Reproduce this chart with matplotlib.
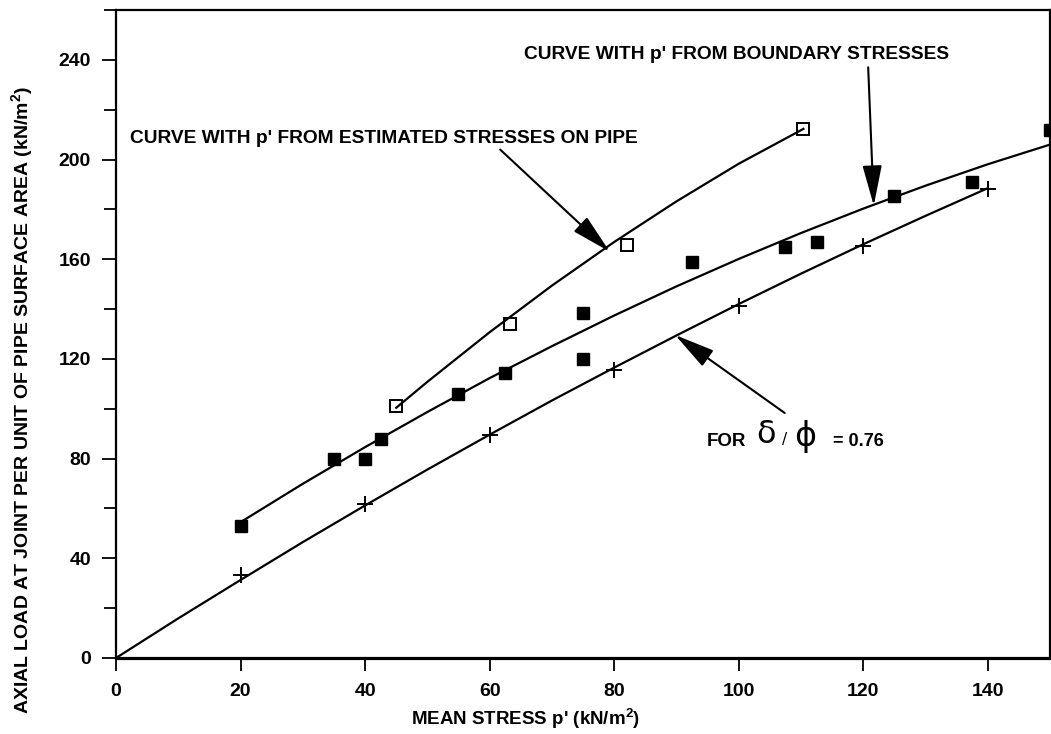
import matplotlib
matplotlib.use("Agg")
import matplotlib.pyplot as plt
from matplotlib.ticker import MultipleLocator

plt.rcParams["font.family"] = ["Liberation Sans", "DejaVu Sans"]
plt.rcParams["font.weight"] = "bold"
plt.rcParams["mathtext.fontset"] = "custom"
plt.rcParams["mathtext.rm"] = "Liberation Sans:bold"
plt.rcParams["mathtext.it"] = "Liberation Sans:bold"
plt.rcParams["mathtext.bf"] = "Liberation Sans:bold"
plt.rcParams["mathtext.default"] = "rm"

# Measured points: p' from boundary stresses (filled squares)
boundary_p = [20, 35, 40, 42.5, 55, 62.5, 75, 75, 92.5, 107.5, 112.5, 125, 137.5, 150]
boundary_load = [53, 80, 80, 88, 106, 114.5, 120, 138.5, 159, 165, 167, 185.5, 191, 212]

# Measured points: p' from estimated stresses on pipe (open squares)
estimated_p = [45, 63.3, 82.1, 110.4]
estimated_load = [101, 134, 165.6, 212.3]

# Predicted values for delta/phi = 0.76 (plus markers)
predicted_p = [20, 40, 60, 80, 100, 120, 140]
predicted_load = [33.3, 61.8, 89.6, 115.7, 141.4, 165.5, 188.2]

# Fitted curves
boundary_curve_p = [20, 30, 40, 50, 60, 70, 80, 90, 100, 110, 120, 130, 140, 150]
boundary_curve_load = [54.5, 69.9, 84.6, 98.7, 112.3, 125.1, 137.4, 149.1, 160.1,
                       170.5, 180.3, 189.5, 198.1, 206.0]
estimated_curve_p = [45, 50, 60, 70, 80, 90, 100, 110.4]
estimated_curve_load = [100.4, 110.8, 130.7, 149.4, 166.9, 183.2, 198.3, 212.3]
predicted_curve_p = [0, 10, 20, 30, 40, 50, 60, 70, 80, 90, 100, 110, 120, 130, 140]
predicted_curve_load = [0, 15.9, 31.3, 46.5, 61.2, 75.6, 89.6, 103.3, 116.5, 129.4,
                        142.0, 154.2, 166.0, 177.4, 188.5]

x_ticks = [0, 20, 40, 60, 80, 100, 120, 140]
y_ticks = [0, 40, 80, 120, 160, 200, 240]

W, H = 1051, 734
fig = plt.figure(figsize=(W / 100, H / 100), dpi=100)
ax = fig.add_axes([116 / W, 1 - 658 / H, (1050 - 116) / W, (658 - 10) / H])

lw = 1.6
ax.plot(boundary_curve_p, boundary_curve_load, color="black", lw=lw)
ax.plot(estimated_curve_p, estimated_curve_load, color="black", lw=lw)
ax.plot(predicted_curve_p, predicted_curve_load, color="black", lw=lw)

ax.plot(boundary_p, boundary_load, ls="none", marker="s", ms=8.7, color="black")
ax.plot(estimated_p, estimated_load, ls="none", marker="s", ms=8.5, mfc="none",
        mec="black", mew=1.4)
ax.plot(predicted_p, predicted_load, ls="none", marker="+", ms=11, color="black",
        mew=1.4)

ax.set_xlim(0, 150)
ax.set_ylim(0, 260)
ax.set_xticks(x_ticks)
ax.set_yticks(y_ticks)
ax.yaxis.set_minor_locator(MultipleLocator(20))
ax.tick_params(axis="both", which="both", direction="out", color="black",
               labelsize=14, width=1.3)
ax.tick_params(axis="x", which="major", length=9, pad=9)
ax.tick_params(axis="y", which="major", length=10, pad=8)
ax.tick_params(axis="y", which="minor", length=9)
for lab in ax.get_xticklabels() + ax.get_yticklabels():
    lab.set_fontweight("bold")
for side in ("left", "top", "right"):
    ax.spines[side].set_linewidth(1.6)
ax.spines["bottom"].set_linewidth(2.3)

fig.text(526 / W, 1 - 719 / H, "MEAN STRESS p' (kN/m$^{2}$)", ha="center",
         va="center", fontsize=13.5, fontweight="bold")
fig.text(22 / W, 1 - 400 / H,
         "AXIAL LOAD AT JOINT PER UNIT OF PIPE SURFACE AREA (kN/m$^{2}$)",
         rotation=90, ha="center", va="center", fontsize=14, fontweight="bold")

arrow = dict(arrowstyle="-|>,head_length=1.25,head_width=0.3", color="black",
             lw=1.5, shrinkA=0, shrinkB=0, mutation_scale=20)

ax.text(65.6, 242, "CURVE WITH p' FROM BOUNDARY STRESSES", ha="left", va="center",
        fontsize=13.8, fontweight="bold")
ax.annotate("", xy=(121.7, 181.5), xytext=(120.8, 237), arrowprops=arrow)

ax.text(2.2, 208.5, "CURVE WITH p' FROM ESTIMATED STRESSES ON PIPE", ha="left",
        va="center", fontsize=13.8, fontweight="bold")
ax.annotate("", xy=(79.3, 163.0), xytext=(61.7, 204.0), arrowprops=arrow)

ax.annotate("", xy=(89.8, 129.6), xytext=(107.4, 98.3), arrowprops=arrow)
ax.text(94.9, 86.8, "FOR", ha="left", va="center", fontsize=13.5, fontweight="bold")
ax.text(104.4, 89.5, "δ", ha="center", va="center", fontsize=23,
        fontweight="normal", family=["DejaVu Sans"])
ax.text(107.3, 87.5, "/", ha="center", va="center", fontsize=11,
        fontweight="normal", family=["DejaVu Sans"])
ax.text(110.6, 89.0, "ϕ", ha="center", va="center", fontsize=24,
        fontweight="normal", family=["DejaVu Sans"])
ax.text(115.1, 86.8, "= 0.76", ha="left", va="center", fontsize=13,
        fontweight="bold")

fig.savefig("out.png", dpi=100)
